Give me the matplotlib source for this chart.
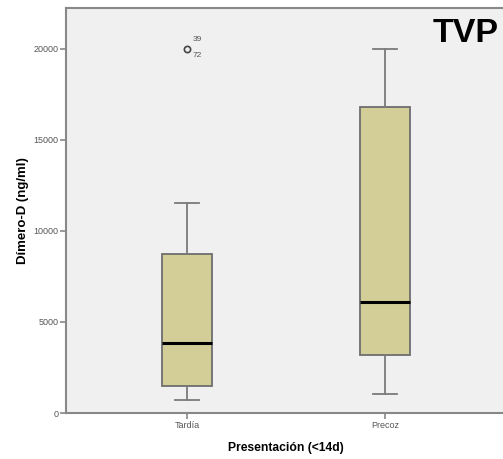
import matplotlib.pyplot as plt

# box summary per group
groups = ["Tardía", "Precoz"]
whisker_low = [714, 1030]
q1 = [1480, 3170]
medians = [3830, 6110]
q3 = [8740, 16800]
whisker_high = [11540, 20000]
outliers = [[20000], []]
outlier_ids = [["39", "72"], []]

yticks = [0, 5000, 10000, 15000, 20000]

plt.rcParams["font.family"] = ["Liberation Sans", "DejaVu Sans"]

fig = plt.figure(figsize=(5.03, 4.59), dpi=100)
ax = fig.add_axes([0.1312, 0.1002, 0.8748, 0.8824])
ax.set_facecolor("#f0f0f0")

stats = []
for i, g in enumerate(groups):
    stats.append({
        "label": g,
        "whislo": whisker_low[i],
        "q1": q1[i],
        "med": medians[i],
        "q3": q3[i],
        "whishi": whisker_high[i],
        "fliers": outliers[i],
    })

positions = list(range(1, len(groups) + 1))
ax.bxp(stats, positions=positions, widths=0.25, patch_artist=True,
       showfliers=True,
       boxprops=dict(facecolor="#d3ce97", edgecolor="#6e6e6e", linewidth=1.3),
       medianprops=dict(color="black", linewidth=2.2),
       whiskerprops=dict(color="#7a7a7a", linewidth=1.3),
       capprops=dict(color="#7a7a7a", linewidth=1.3),
       capwidths=0.125,
       flierprops=dict(marker="o", markersize=4.5, markerfacecolor="none",
                       markeredgecolor="#444444", markeredgewidth=1.2))

# outlier case labels
for i, ids in enumerate(outlier_ids):
    for v in outliers[i]:
        ax.annotate(ids[0], (positions[i], v), xytext=(4, 4), textcoords="offset points",
                    fontsize=6, color="#555555", ha="left", va="bottom")
        ax.annotate(ids[1], (positions[i], v), xytext=(4, -2), textcoords="offset points",
                    fontsize=6, color="#555555", ha="left", va="top")

ax.set_xlim(0.389, 2.611)
ax.set_ylim(0, 22250)
ax.set_yticks(yticks)
ax.set_yticklabels([str(t) for t in yticks])
ax.set_xticks(positions)
ax.set_xticklabels(groups)

ax.tick_params(axis="both", labelsize=6.5, labelcolor="#555555", color="#888888",
               length=4.5, width=1.2, direction="out", pad=1)
for side in ["left", "bottom", "top", "right"]:
    ax.spines[side].set_color("#888888")
    ax.spines[side].set_linewidth(1.5)

ax.set_ylabel("Dímero-D (ng/ml)", fontsize=9.5, fontweight="bold", labelpad=3)
ax.set_xlabel("Presentación (<14d)", fontsize=8.7, fontweight="bold", labelpad=9)

fig.text(433 / 503, 1 - 42 / 459, "TVP", fontsize=24.5, fontweight="bold",
         color="black", ha="left", va="baseline")

fig.savefig("out.png", dpi=100, facecolor="white")
